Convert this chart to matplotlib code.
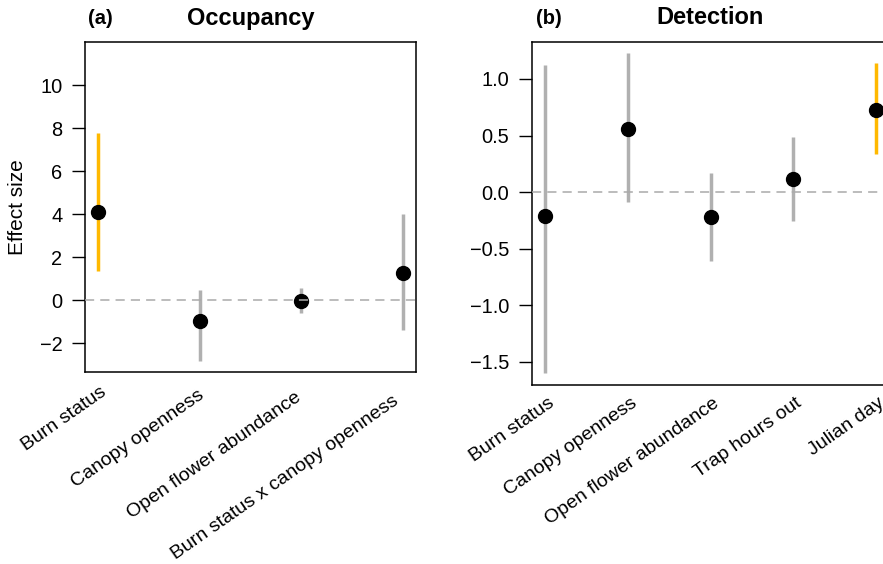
import matplotlib
matplotlib.use('Agg')
import matplotlib.pyplot as plt
import matplotlib.transforms as mtransforms

plt.rcParams['font.family'] = ['Liberation Sans', 'DejaVu Sans']

# Occupancy model estimates (mean and 95% interval)
occ_labels = ['Burn status', 'Canopy openness', 'Open flower abundance',
              'Burn status x canopy openness']
occ_mean = [4.1, -0.96, -0.05, 1.24]
occ_low = [1.35, -2.82, -0.62, -1.37]
occ_high = [7.75, 0.47, 0.54, 3.98]
occ_signif = [True, False, False, False]

# Detection model estimates
det_labels = ['Burn status', 'Canopy openness', 'Open flower abundance',
              'Trap hours out', 'Julian day']
det_mean = [-0.215, 0.56, -0.224, 0.112, 0.73]
det_low = [-1.60, -0.09, -0.61, -0.257, 0.336]
det_high = [1.12, 1.227, 0.165, 0.49, 1.14]
det_signif = [False, False, False, False, True]

ORANGE = '#FFB900'
GREY = '#B0B0B0'

fig = plt.figure(figsize=(8.83, 5.64), dpi=100)
ax1 = fig.add_axes([0.0966, 0.3399, 0.3742, 0.5856])
ax2 = fig.add_axes([0.6028, 0.3168, 0.4040, 0.6087])


def effect_panel(ax, labels, mean, low, high, signif, ylim, yticks, ytick_labels,
                 lab_shift):
    x = list(range(1, len(labels) + 1))
    for xi, m, lo, hi, sig in zip(x, mean, low, high, signif):
        ax.plot([xi, xi], [lo, hi], color=ORANGE if sig else GREY, lw=2.5,
                solid_capstyle='butt', zorder=2)
        ax.plot(xi, m, 'o', color='black', ms=10, zorder=3)
    ax.axhline(0, color='#AAAAAA', lw=1.1, dashes=(6, 4), zorder=4)
    n = len(labels)
    pad = 0.04 * (n - 1)
    ax.set_xlim(1 - pad, n + pad)
    ax.set_ylim(*ylim)
    ax.set_yticks(yticks)
    ax.set_yticklabels(ytick_labels)
    ax.set_xticks([])
    ax.tick_params(axis='y', length=9.5, width=1.0, pad=7, labelsize=14.4,
                   direction='out')
    for s in ax.spines.values():
        s.set_linewidth(1.1)
    # slanted category labels hanging under the axis
    # lab_shift = (dx, dx step, dy, dy step) in pixels
    dx0, ddx, dy0, ddy = lab_shift
    base = mtransforms.blended_transform_factory(ax.transData, ax.transAxes)
    for i, (xi, lab) in enumerate(zip(x, labels)):
        off = mtransforms.ScaledTranslation((dx0 + ddx * i) / 100,
                                            -(dy0 + ddy * i) / 100,
                                            fig.dpi_scale_trans)
        ax.text(xi, 0, lab, transform=base + off, rotation=35,
                rotation_mode='anchor', ha='right', va='center', fontsize=14,
                clip_on=False)


effect_panel(ax1, occ_labels, occ_mean, occ_low, occ_high, occ_signif,
             (-3.36, 12.0), [-2, 0, 2, 4, 6, 8, 10],
             ['\u22122', '0', '2', '4', '6', '8', '10'], (7, -4.6, 18, 3))
effect_panel(ax2, det_labels, det_mean, det_low, det_high, det_signif,
             (-1.71, 1.327), [-1.5, -1.0, -0.5, 0.0, 0.5, 1.0],
             ['\u22121.5', '\u22121.0', '\u22120.5', '0.0', '0.5', '1.0'],
             (7, 0, 16, 0))

ax1.set_ylabel('Effect size', fontsize=15, labelpad=9)

fig.text(100 / 883, 1 - 19 / 564, '(a)', ha='center', va='center',
         fontsize=14.5, fontweight='bold')
fig.text(250.5 / 883, 1 - 18 / 564, 'Occupancy', ha='center', va='center',
         fontsize=17, fontweight='bold')
fig.text(549 / 883, 1 - 19 / 564, '(b)', ha='center', va='center',
         fontsize=14.5, fontweight='bold')
fig.text(710.5 / 883, 1 - 18 / 564, 'Detection', ha='center', va='center',
         fontsize=17, fontweight='bold')

fig.savefig('out.png', dpi=100)
